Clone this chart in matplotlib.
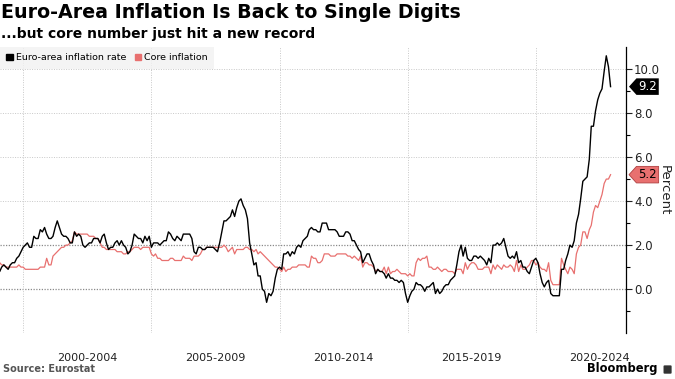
import matplotlib
matplotlib.use('Agg')
import matplotlib.pyplot as plt
import matplotlib.dates as mdates
import matplotlib.transforms as mtransforms
from matplotlib.path import Path
from matplotlib.patches import Patch, FancyBboxPatch
import numpy as np
import pandas as pd

# monthly, Jan 1999 - Dec 2022
headline = [
    0.8, 0.8, 1.0, 1.1, 1.0, 0.9, 1.1, 1.2, 1.2, 1.4, 1.5, 1.7,
    1.9, 2.0, 2.1, 1.9, 1.9, 2.4, 2.3, 2.3, 2.7, 2.6, 2.8, 2.5,
    2.3, 2.3, 2.4, 2.8, 3.1, 2.8, 2.5, 2.4, 2.4, 2.3, 2.1, 2.1,
    2.6, 2.4, 2.5, 2.4, 2.0, 1.9, 2.0, 2.1, 2.1, 2.3, 2.3, 2.3,
    2.1, 2.4, 2.5, 2.1, 1.8, 1.9, 1.9, 2.1, 2.2, 2.0, 2.2, 2.0,
    1.9, 1.6, 1.7, 2.0, 2.5, 2.4, 2.3, 2.3, 2.1, 2.4, 2.2, 2.4,
    1.9, 2.1, 2.1, 2.1, 2.0, 2.1, 2.2, 2.2, 2.6, 2.5, 2.3, 2.2,
    2.4, 2.3, 2.2, 2.5, 2.5, 2.5, 2.5, 2.3, 1.7, 1.6, 1.9, 1.9,
    1.8, 1.8, 1.9, 1.9, 1.9, 1.9, 1.8, 1.7, 2.1, 2.6, 3.1, 3.1,
    3.2, 3.3, 3.6, 3.3, 3.7, 4.0, 4.1, 3.8, 3.6, 3.2, 2.1, 1.6,
    1.1, 1.2, 0.6, 0.6, 0.0, -0.1, -0.6, -0.2, -0.3, -0.1, 0.5, 0.9,
    1.0, 0.9, 1.6, 1.6, 1.7, 1.5, 1.7, 1.6, 1.9, 2.0, 1.9, 2.2,
    2.3, 2.4, 2.7, 2.8, 2.7, 2.7, 2.6, 2.6, 3.0, 3.0, 3.0, 2.7,
    2.7, 2.7, 2.7, 2.6, 2.4, 2.4, 2.4, 2.6, 2.6, 2.5, 2.2, 2.2,
    2.0, 1.8, 1.7, 1.2, 1.4, 1.6, 1.6, 1.3, 1.1, 0.7, 0.9, 0.8,
    0.8, 0.7, 0.5, 0.7, 0.5, 0.5, 0.4, 0.4, 0.3, 0.4, 0.3, -0.2,
    -0.6, -0.3, -0.1, 0.0, 0.3, 0.2, 0.2, 0.1, -0.1, 0.1, 0.1, 0.2,
    0.3, -0.2, 0.0, -0.2, -0.1, 0.1, 0.2, 0.2, 0.4, 0.5, 0.6, 1.1,
    1.7, 2.0, 1.5, 1.9, 1.4, 1.3, 1.3, 1.5, 1.5, 1.4, 1.5, 1.4,
    1.3, 1.1, 1.4, 1.2, 2.0, 2.0, 2.1, 2.0, 2.1, 2.3, 1.9, 1.5,
    1.4, 1.5, 1.4, 1.7, 1.2, 1.3, 1.0, 1.0, 0.8, 0.7, 1.0, 1.3,
    1.4, 1.2, 0.7, 0.3, 0.1, 0.3, 0.4, -0.2, -0.3, -0.3, -0.3, -0.3,
    0.9, 0.9, 1.3, 1.6, 2.0, 1.9, 2.2, 3.0, 3.4, 4.1, 4.9, 5.0,
    5.1, 5.9, 7.4, 7.4, 8.1, 8.6, 8.9, 9.1, 9.9, 10.6, 10.1, 9.2,
]
core = [
    1.3, 1.2, 1.1, 1.1, 1.0, 1.0, 1.0, 1.0, 1.0, 1.0, 1.1, 1.0,
    1.0, 0.9, 0.9, 0.9, 0.9, 0.9, 0.9, 0.9, 1.0, 1.0, 1.0, 1.4,
    1.1, 1.1, 1.5, 1.6, 1.7, 1.8, 1.9, 1.9, 2.0, 2.0, 2.1, 2.2,
    2.6, 2.5, 2.5, 2.5, 2.5, 2.5, 2.5, 2.4, 2.4, 2.4, 2.3, 2.3,
    2.1, 1.9, 1.9, 1.8, 1.8, 1.8, 1.8, 1.8, 1.7, 1.7, 1.7, 1.6,
    1.6, 1.7, 1.7, 1.8, 1.9, 1.9, 1.9, 1.8, 1.9, 1.9, 1.9, 1.9,
    1.6, 1.5, 1.6, 1.4, 1.4, 1.3, 1.3, 1.3, 1.3, 1.4, 1.4, 1.3,
    1.3, 1.3, 1.3, 1.5, 1.4, 1.4, 1.4, 1.3, 1.5, 1.5, 1.5, 1.6,
    1.8, 1.8, 1.9, 1.9, 1.9, 1.9, 1.9, 1.9, 1.9, 1.9, 2.0, 1.9,
    1.7, 1.8, 1.9, 1.6, 1.8, 1.8, 1.8, 1.8, 1.9, 1.9, 1.8, 1.8,
    1.7, 1.8, 1.6, 1.7, 1.6, 1.5, 1.4, 1.3, 1.2, 1.1, 1.0, 1.0,
    0.9, 0.8, 1.0, 0.8, 0.9, 0.9, 1.0, 1.0, 1.0, 1.1, 1.1, 1.1,
    1.1, 1.0, 1.0, 1.5, 1.4, 1.4, 1.2, 1.2, 1.3, 1.6, 1.6, 1.6,
    1.5, 1.5, 1.5, 1.6, 1.6, 1.6, 1.6, 1.6, 1.5, 1.5, 1.4, 1.5,
    1.4, 1.3, 1.5, 1.0, 1.2, 1.2, 1.1, 1.1, 1.0, 0.8, 0.9, 0.8,
    0.8, 1.0, 0.7, 1.0, 0.7, 0.8, 0.8, 0.9, 0.8, 0.7, 0.7, 0.7,
    0.6, 0.7, 0.6, 0.6, 1.2, 1.4, 1.3, 1.4, 1.4, 1.5, 1.0, 1.0,
    0.9, 0.9, 1.0, 0.9, 0.8, 0.9, 0.9, 0.8, 0.8, 0.8, 0.7, 0.9,
    0.9, 0.9, 0.7, 1.2, 0.9, 1.1, 1.2, 1.2, 1.1, 0.9, 0.9, 0.9,
    1.0, 1.0, 1.0, 0.7, 1.1, 0.9, 1.1, 1.0, 0.9, 1.1, 1.0, 1.0,
    1.1, 1.0, 0.8, 1.3, 0.8, 1.1, 0.9, 0.9, 1.0, 1.1, 1.3, 1.3,
    1.1, 1.2, 1.0, 0.9, 0.9, 0.8, 1.2, 0.4, 0.2, 0.2, 0.2, 0.2,
    1.4, 1.1, 0.9, 0.7, 1.0, 0.9, 0.7, 1.6, 1.9, 2.0, 2.6, 2.6,
    2.3, 2.7, 2.9, 3.5, 3.8, 3.7, 4.0, 4.3, 4.8, 5.0, 5.0, 5.2,
]
months = pd.date_range('1999-01-01', periods=len(headline), freq='MS')
period_labels = ['2000-2004', '2005-2009', '2010-2014', '2015-2019', '2020-2024']
period_mid = pd.to_datetime(['2002-07-01', '2007-07-01', '2012-07-01', '2017-07-01', '2022-07-01'])

BLACK = '#000000'
RED = '#e8706f'

fig = plt.figure(figsize=(6.75, 3.79), dpi=100)
ax = fig.add_axes([0.0, 0.121, 0.927, 0.755])

ax.plot(months, core, color=RED, lw=0.9, zorder=3)
ax.plot(months, headline, color=BLACK, lw=1.0, zorder=4)

ax.set_ylim(-2, 11)
ax.set_xlim(pd.Timestamp('1999-02-05'), pd.Timestamp('2023-07-05'))

# y axis on the right
ax.yaxis.tick_right()
ax.set_yticks([0, 2, 4, 6, 8, 10])
ax.set_yticklabels(['0.0', '2.0', '4.0', '6.0', '8.0', '10.0'])
ax.set_yticks([-1, 1, 3, 5, 7, 9], minor=True)
ax.tick_params(axis='y', which='major', direction='out', length=4, width=0.8, pad=2,
               labelsize=8.5, colors='#222222')
ax.tick_params(axis='y', which='minor', direction='out', length=3, width=0.8)
for s in ['top', 'left', 'bottom']:
    ax.spines[s].set_visible(False)
ax.spines['right'].set_linewidth(0.9)

# horizontal grid
for v in [-2, 4, 6, 8, 10]:
    ax.axhline(v, color='#c8c8c8', lw=0.7, ls=(0, (1, 1.5)), zorder=1)
for v in [0, 2]:
    ax.axhline(v, color='#8a8a8a', lw=0.9, ls=(0, (1, 1.2)), zorder=1)

# x axis: gridlines at period starts, labels at period middles
ax.xaxis.set_major_locator(mdates.YearLocator(5))
ax.xaxis.set_major_formatter(plt.NullFormatter())
ax.set_xticks(period_mid, minor=True)
ax.set_xticklabels(period_labels, minor=True)
ax.tick_params(axis='x', which='both', length=0, labelsize=8, pad=14, colors='#222222')
ax.grid(axis='x', which='major', color='#c8c8c8', lw=0.7, ls=(0, (1, 1.5)))

ax.set_ylabel('Percent', rotation=270, fontsize=9.5, labelpad=8, color='#222222')
ax.yaxis.set_label_position('right')

# legend
handles = [Patch(color=BLACK, label='Euro-area inflation rate'),
           Patch(color=RED, label='Core inflation')]
leg = ax.legend(handles=handles, loc='upper left', bbox_to_anchor=(0.0, 1.0), ncol=2,
                frameon=True, fontsize=6.8, handlelength=0.7, handleheight=0.7,
                handletextpad=0.3, columnspacing=0.9, borderpad=0.68, borderaxespad=0.0,
                fancybox=False)
leg.get_frame().set_facecolor('#f2f2f2')
leg.get_frame().set_edgecolor('none')
leg.set_zorder(5)


def tag_box(x0, y0, width, height, mutation_size):
    pad = 0.15 * mutation_size
    x0, y0 = x0 - pad, y0 - pad
    w, h = width + 2 * pad, height + 2 * pad
    tip = h * 0.45
    return Path([(x0 - tip, y0 + h / 2), (x0, y0 + h), (x0 + w, y0 + h),
                 (x0 + w, y0), (x0, y0), (x0 - tip, y0 + h / 2)],
                [Path.MOVETO, Path.LINETO, Path.LINETO, Path.LINETO, Path.LINETO,
                 Path.CLOSEPOLY])


trans = mtransforms.blended_transform_factory(ax.transAxes, ax.transData)
ax.text(1.02, headline[-1], f'{headline[-1]:.1f}', transform=trans, ha='left', va='center',
        fontsize=8.5, color='white', clip_on=False, zorder=6,
        bbox=dict(boxstyle=tag_box, fc=BLACK, ec='none'))
ax.text(1.02, core[-1], f'{core[-1]:.1f}', transform=trans, ha='left', va='center',
        fontsize=8.5, color='black', clip_on=False, zorder=6,
        bbox=dict(boxstyle=tag_box, fc=RED, ec='#b04040', lw=0.6))

# titles and footer
fig.text(0.002, 0.992, 'Euro-Area Inflation Is Back to Single Digits', fontsize=13.7,
         fontweight='bold', va='top', ha='left')
fig.text(0.002, 0.928, '...but core number just hit a new record', fontsize=10,
         fontweight='bold', va='top', ha='left')
fig.text(0.004, 0.012, 'Source: Eurostat', fontsize=7, color='#555555', fontweight='bold',
         va='bottom', ha='left')
fig.text(0.974, 0.01, 'Bloomberg', fontsize=8.3, fontweight='bold', va='bottom', ha='right')
# small logo square next to the brand name
fig.add_artist(FancyBboxPatch((0.983, 0.014), 0.012, 0.022, boxstyle='round,pad=0,rounding_size=0.002',
                              transform=fig.transFigure, fc='#333333', ec='none'))

fig.savefig('out.png', dpi=100)
